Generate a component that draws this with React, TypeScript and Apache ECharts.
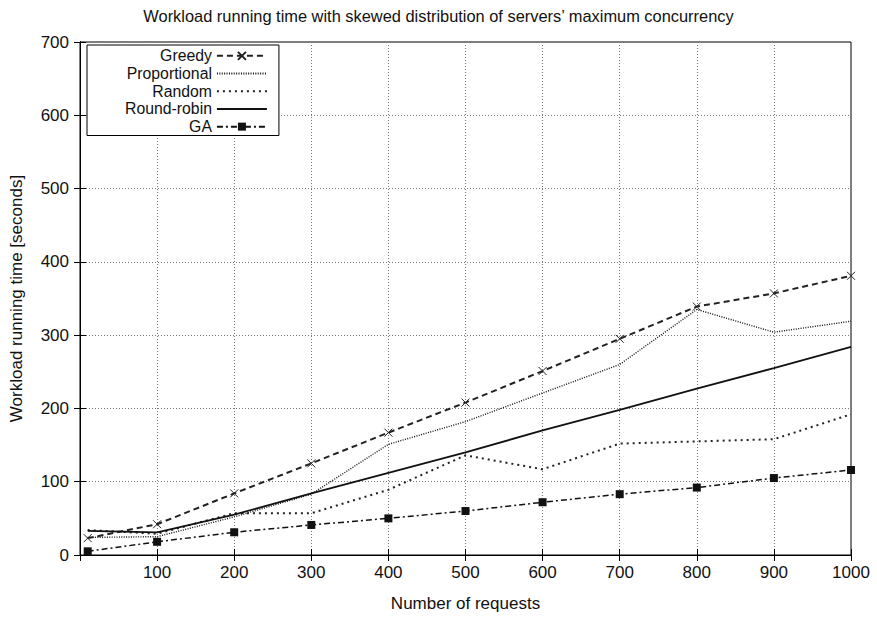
import React, { useEffect, useRef } from "react";
import * as echarts from "echarts";

const requests = [10, 100, 200, 300, 400, 500, 600, 700, 800, 900, 1000];
const greedy = [23, 42, 84, 125, 167, 208, 251, 295, 339, 357, 381];
const proportional = [24, 25, 52, 83, 151, 182, 221, 260, 335, 304, 319];
const random = [34, 29, 57, 57, 89, 136, 117, 152, 155, 158, 192];
const roundRobin = [33, 31, 55, 84, 112, 140, 170, 198, 227, 255, 284];
const ga = [5, 18, 31, 41, 50, 60, 72, 83, 92, 105, 116];

const FONT = "Liberation Sans";

function pairs(ys: number[]) {
  return requests.map((x, i) => [x, ys[i]]);
}

export default function App() {
  const ref = useRef<HTMLDivElement>(null);
  useEffect(() => {
    const chart = echarts.init(ref.current!, null, { renderer: "svg" });
    const tick = { show: true, inside: true, length: 6, lineStyle: { color: "#000", width: 1 } };
    const split = { show: true, lineStyle: { color: "#777", type: [1, 2], width: 1 } };
    const hidden = { itemStyle: { opacity: 0 } };
    chart.setOption({
      animation: false,
      textStyle: { fontFamily: FONT },
      title: {
        text: "Workload running time with skewed distribution of servers\u2019 maximum concurrency",
        left: "center",
        top: 3,
        textStyle: { fontFamily: FONT, fontSize: 16.4, fontWeight: "normal", color: "#111" },
      },
      grid: { left: 77, right: 26, top: 42, bottom: 57, show: true, borderColor: "#000", borderWidth: 1 },
      legend: {
        orient: "vertical",
        align: "right",
        left: 87,
        top: 45,
        itemWidth: 50,
        itemHeight: 10,
        itemGap: 0,
        padding: [2, 11, 0, 38],
        borderColor: "#000",
        borderWidth: 1,
        backgroundColor: "#fff",
        textStyle: { fontFamily: FONT, fontSize: 15.8, color: "#111", lineHeight: 17.7 },
        data: [
          { name: "Greedy" },
          { name: "Proportional", ...hidden },
          { name: "Random", ...hidden },
          { name: "Round-robin", ...hidden },
          { name: "GA" },
        ],
      },
      xAxis: [
        {
          type: "value",
          min: 0,
          max: 1000,
          interval: 100,
          name: "Number of requests",
          nameLocation: "middle",
          nameGap: 40,
          nameTextStyle: { fontFamily: FONT, fontSize: 17, color: "#111" },
          axisLine: { show: true, lineStyle: { color: "#000" } },
          axisTick: tick,
          axisLabel: {
            fontFamily: FONT,
            fontSize: 17,
            color: "#111",
            margin: 9,
            formatter: (v: number) => (v === 0 ? "" : String(v)),
          },
          splitLine: split,
        },
        {
          type: "value",
          position: "top",
          min: 0,
          max: 1000,
          interval: 100,
          axisLine: { show: true, lineStyle: { color: "#000" } },
          axisTick: tick,
          axisLabel: { show: false },
          splitLine: { show: false },
        },
      ],
      yAxis: [
        {
          type: "value",
          min: 0,
          max: 700,
          interval: 100,
          name: "Workload running time [seconds]",
          nameLocation: "middle",
          nameGap: 55,
          nameTextStyle: { fontFamily: FONT, fontSize: 17, color: "#111" },
          axisLine: { show: true, lineStyle: { color: "#000" } },
          axisTick: tick,
          axisLabel: { fontFamily: FONT, fontSize: 17, color: "#111", margin: 11 },
          splitLine: split,
        },
        {
          type: "value",
          position: "right",
          min: 0,
          max: 700,
          interval: 100,
          axisLine: { show: true, lineStyle: { color: "#000" } },
          axisTick: tick,
          axisLabel: { show: false },
          splitLine: { show: false },
        },
      ],
      series: [
        {
          name: "Greedy",
          type: "line",
          data: pairs(greedy),
          symbol: "path://M0,0L10,10M10,0L0,10",
          symbolSize: 8,
          itemStyle: { color: "#222", borderColor: "#222", borderWidth: 1 },
          lineStyle: { color: "#222", width: 2, type: [6, 4] },
        },
        {
          name: "Proportional",
          type: "line",
          data: pairs(proportional),
          symbol: "none",
          itemStyle: { color: "#111" },
          lineStyle: { color: "#111", width: 1.4, type: [1, 1.4] },
        },
        {
          name: "Random",
          type: "line",
          data: pairs(random),
          symbol: "none",
          itemStyle: { color: "#222" },
          lineStyle: { color: "#222", width: 2, type: [2, 4] },
        },
        {
          name: "Round-robin",
          type: "line",
          data: pairs(roundRobin),
          symbol: "none",
          itemStyle: { color: "#111" },
          lineStyle: { color: "#111", width: 1.8, type: "solid" },
        },
        {
          name: "GA",
          type: "line",
          data: pairs(ga),
          symbol: "rect",
          symbolSize: 8,
          itemStyle: { color: "#111", borderColor: "#111", borderWidth: 0 },
          lineStyle: { color: "#111", width: 1.5, type: [6, 3, 2, 3] },
        },
      ],
    });
    return () => chart.dispose();
  }, []);
  return (
    <div
      ref={ref}
      style={{ position: "absolute", left: 0, top: 0, width: 877, height: 617 }}
    />
  );
}
